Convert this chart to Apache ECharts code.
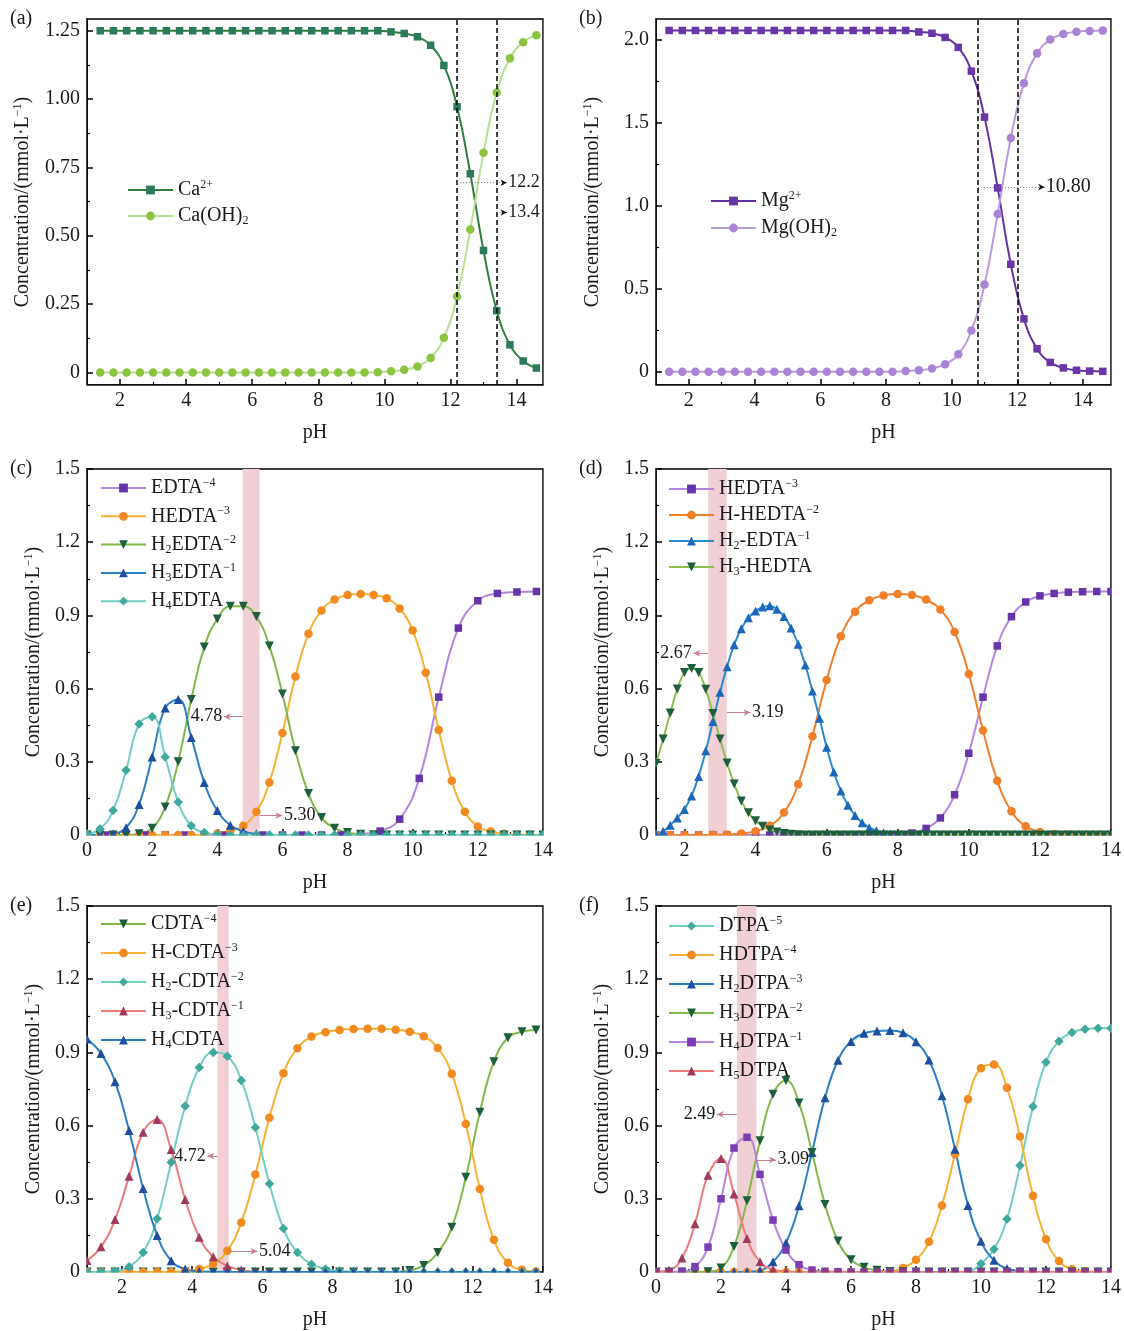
<!DOCTYPE html>
<html>
<head>
<meta charset="utf-8">
<script src="https://cdn.jsdelivr.net/npm/echarts@6/dist/echarts.min.js"></script>
<style>
html,body{margin:0;padding:0;background:#fff;}
#chart{width:1124px;height:1331px;}
</style>
</head>
<body>
<div id="chart"></div>
<script>
// ---------- pH grids ----------
const phCaMg = [1.4,1.8,2.2,2.6,3.0,3.4,3.8,4.2,4.6,5.0,5.4,5.8,6.2,6.6,7.0,7.4,7.8,8.2,8.6,9.0,9.4,9.8,10.2,10.6,11.0,11.4,11.8,12.2,12.6,13.0,13.4,13.8,14.2,14.6];
const phEdta = [0,0.4,0.8,1.2,1.6,2.0,2.4,2.8,3.2,3.6,4.0,4.4,4.8,5.2,5.6,6.0,6.4,6.8,7.2,7.6,8.0,8.4,8.8,9.2,9.6,10.0,10.4,10.8,11.2,11.6,12.0,12.4,12.8,13.2,13.6,14.0];
const phEdtaWide = [0,0.6,1.2,1.8,2.4,3.0,3.6,4.2,4.8,5.4,6.0,6.6,7.2,7.8,8.4,9.0,9.6,10.2,10.8,11.4,12.0,12.6,13.2,13.8];
const phHedtaFine = [1.2,1.4,1.6,1.8,2.0,2.2,2.4,2.6,2.8,3.0,3.2,3.4,3.6,3.8,4.0,4.2,4.4,4.6,4.8,5.0,5.2,5.4,5.6,5.8,6.0,6.2,6.4,6.6,6.8,7.0,7.2,7.4,7.6,7.8,8.0,8.2,8.4,8.6,8.8,9.0,9.2,9.4,9.6,9.8,10.0,10.2,10.4,10.6,10.8,11.0,11.2,11.4,11.6,11.8,12.0,12.2,12.4,12.6,12.8,13.0,13.2,13.4,13.6,13.8,14.0];
const phHedta = [1.2,1.6,2.0,2.4,2.8,3.2,3.6,4.0,4.4,4.8,5.2,5.6,6.0,6.4,6.8,7.2,7.6,8.0,8.4,8.8,9.2,9.6,10.0,10.4,10.8,11.2,11.6,12.0,12.4,12.8,13.2,13.6,14.0];
const phCdta = [1.0,1.4,1.8,2.2,2.6,3.0,3.4,3.8,4.2,4.6,5.0,5.4,5.8,6.2,6.6,7.0,7.4,7.8,8.2,8.6,9.0,9.4,9.8,10.2,10.6,11.0,11.4,11.8,12.2,12.6,13.0,13.4,13.8];
const phDtpa = [0,0.4,0.8,1.2,1.6,2.0,2.4,2.8,3.2,3.6,4.0,4.4,4.8,5.2,5.6,6.0,6.4,6.8,7.2,7.6,8.0,8.4,8.8,9.2,9.6,10.0,10.4,10.8,11.2,11.6,12.0,12.4,12.8,13.2,13.6,14.0];

// ---------- concentrations, mmol/L ----------
// (a) calcium
const ca2 = [1.25,1.25,1.25,1.25,1.25,1.25,1.25,1.25,1.25,1.25,1.25,1.25,1.25,1.25,1.25,1.25,1.25,1.25,1.25,1.25,1.25,1.25,1.246,1.24,1.228,1.197,1.123,0.972,0.727,0.446,0.226,0.101,0.042,0.016];
const caOH2 = [0,0,0,0,0,0,0,0,0,0,0,0,0,0,0,0,0,0,0,0,0,0.001,0.004,0.01,0.022,0.053,0.127,0.278,0.523,0.804,1.024,1.149,1.208,1.234];
// (b) magnesium
const mg2 = [2.055,2.055,2.055,2.055,2.055,2.055,2.055,2.055,2.055,2.055,2.055,2.055,2.055,2.055,2.055,2.055,2.055,2.055,2.055,2.046,2.038,2.013,1.953,1.81,1.533,1.107,0.647,0.318,0.138,0.056,0.023,0.009,0.004,0.002];
const mgOH2 = [0,0,0,0,0,0,0,0,0,0,0,0,0,0,0,0,0,0,0.004,0.009,0.02,0.045,0.105,0.248,0.525,0.95,1.408,1.737,1.917,2.0,2.033,2.047,2.052,2.054];
// (c) EDTA
const edta4 = [0,0,0,0,0,0,0,0,0,0,0,0,0,0,0.004,0.016,0.065,0.232,0.565,0.848,0.96,0.99,0.996,0.998];
const hedta3 = [0,0,0,0,0,0,0,0,0,0.002,0.006,0.016,0.038,0.095,0.215,0.418,0.65,0.825,0.92,0.965,0.984,0.988,0.984,0.97,0.928,0.838,0.665,0.43,0.222,0.095,0.035,0.014,0.005,0.002,0.001,0];
const h2edta2 = [0,0,0,0,0.005,0.028,0.115,0.3,0.555,0.77,0.885,0.937,0.937,0.895,0.775,0.578,0.345,0.17,0.072,0.028,0.01,0.003,0.001,0,0,0,0,0,0,0,0,0,0,0,0,0];
const h3edta1 = [0,0.001,0.005,0.03,0.125,0.32,0.52,0.555,0.4,0.215,0.1,0.04,0.015,0.005,0.001,0,0,0,0,0,0,0,0,0,0,0,0,0,0,0,0,0,0,0,0,0];
const h4edta = [0.005,0.025,0.1,0.265,0.455,0.485,0.32,0.135,0.038,0.01,0.002,0,0,0,0,0,0,0,0,0,0,0,0,0,0,0,0,0,0,0,0,0,0,0,0,0];
// (d) HEDTA
const hedtaD = [0,0,0,0,0,0,0,0,0,0,0,0,0,0,0,0,0,0,0.008,0.027,0.07,0.165,0.335,0.565,0.775,0.895,0.955,0.98,0.99,0.995,0.997,0.998,0.998];
const hHedta2 = [0,0,0,0,0.001,0.002,0.006,0.015,0.038,0.092,0.208,0.405,0.635,0.815,0.915,0.962,0.982,0.988,0.984,0.965,0.924,0.832,0.66,0.428,0.222,0.097,0.036,0.012,0.004,0.001,0,0,0];
const h2Edta1 = [0.005,0.015,0.04,0.07,0.105,0.16,0.24,0.345,0.465,0.585,0.69,0.78,0.845,0.89,0.918,0.934,0.94,0.925,0.896,0.848,0.782,0.697,0.59,0.478,0.36,0.258,0.18,0.122,0.08,0.05,0.03,0.017,0.009,0.004,0.002,0,0,0,0,0,0,0,0,0,0,0,0,0,0,0,0,0,0,0,0,0,0,0,0,0,0,0,0,0,0];
const h3Hedta = [0.293,0.393,0.5,0.598,0.666,0.682,0.666,0.597,0.498,0.393,0.295,0.209,0.139,0.091,0.058,0.036,0.021,0.012,0.006,0.003,0.001,0,0,0,0,0,0,0,0,0,0,0,0,0,0,0,0,0,0,0,0,0,0,0,0,0,0,0,0,0,0,0,0,0,0,0,0,0,0,0,0,0,0,0,0];
// (e) CDTA
const cdta4 = [0,0,0,0,0,0,0,0,0,0,0,0,0,0,0,0,0,0,0,0,0,0,0,0.006,0.027,0.08,0.183,0.388,0.655,0.862,0.96,0.985,0.992];
const hCdta3 = [0,0,0,0,0,0,0,0.004,0.012,0.033,0.087,0.203,0.4,0.632,0.815,0.917,0.965,0.983,0.992,0.996,0.997,0.997,0.993,0.985,0.966,0.918,0.812,0.607,0.34,0.132,0.038,0.009,0.002];
const h2Cdta2 = [0,0.001,0.004,0.022,0.08,0.218,0.45,0.68,0.838,0.9,0.884,0.785,0.592,0.362,0.178,0.08,0.032,0.012,0.004,0.001,0,0,0,0,0,0,0,0,0,0,0,0,0];
const h3Cdta1 = [0.047,0.103,0.215,0.392,0.573,0.625,0.502,0.297,0.142,0.062,0.025,0.008,0.002,0.001,0,0,0,0,0,0,0,0,0,0,0,0,0,0,0,0,0,0,0];
const h4Cdta = [0.955,0.895,0.78,0.58,0.342,0.15,0.046,0.012,0.003,0.001,0,0,0,0,0,0,0,0,0,0,0,0,0,0,0,0,0,0,0,0,0,0,0];
// (f) DTPA
const dtpa5 = [0,0,0,0,0,0,0,0,0,0,0,0,0,0,0,0,0,0,0,0,0,0,0,0,0.002,0.034,0.093,0.217,0.436,0.678,0.86,0.946,0.982,0.995,0.999,0.999];
const hDtpa4 = [0,0,0,0,0,0,0,0,0,0,0,0,0,0,0,0,0,0,0.003,0.016,0.05,0.124,0.273,0.483,0.708,0.835,0.85,0.755,0.555,0.312,0.134,0.045,0.011,0.003,0.001,0];
const h2Dtpa3 = [0,0,0,0,0,0,0,0,0.006,0.042,0.12,0.272,0.49,0.714,0.868,0.945,0.978,0.988,0.99,0.981,0.944,0.869,0.722,0.503,0.273,0.126,0.048,0.014,0.004,0.001,0,0,0,0,0,0];
const h3Dtpa2 = [0,0,0,0,0.001,0.016,0.105,0.292,0.538,0.728,0.785,0.693,0.49,0.277,0.127,0.05,0.019,0.007,0.002,0.001,0,0,0,0,0,0,0,0,0,0,0,0,0,0,0,0];
const h4Dtpa1 = [0,0,0.002,0.022,0.102,0.3,0.508,0.552,0.4,0.213,0.09,0.03,0.008,0.003,0.001,0,0,0,0,0,0,0,0,0,0,0,0,0,0,0,0,0,0,0,0,0];
const h5Dtpa = [0.001,0.007,0.057,0.198,0.397,0.465,0.32,0.137,0.042,0.01,0.002,0,0,0,0,0,0,0,0,0,0,0,0,0,0,0,0,0,0,0,0,0,0,0,0,0];

// ---------- marked pH values ----------
const precipCa = [12.2, 13.4];
const precipMg = [10.8, 12.0];
const bandEdta = [4.78, 5.30];
const bandHedta = [2.67, 3.19];
const bandCdta = [4.72, 5.04];
const bandDtpa = [2.49, 3.09];

// ---------- tick labels ----------
const ticksEven = [2,4,6,8,10,12,14];
const ticksEven0 = [0,2,4,6,8,10,12,14];
const ticksOdd = [1,3,5,7,9,11,13];
const ticksOddInner = [3,5,7,9,11,13];
const ticksCa = [0,0.25,0.5,0.75,1.0,1.25];
const ticksCaMinor = [0.125,0.375,0.625,0.875,1.125];
const ticksMg = [0,0.5,1.0,1.5,2.0];
const ticksMgMinor = [0.25,0.75,1.25,1.75];
const ticksConc = [0,0.3,0.6,0.9,1.2,1.5];
const ticksConcMinor = [0.15,0.45,0.75,1.05,1.35];

const FONT = '"Liberation Serif","Times New Roman",Times,serif';
const INK = '#1a1a1a';
const SUP = { fontFamily: FONT, fontSize: 12, lineHeight: 12, verticalAlign: 'top', color: INK };
const SUB = { fontFamily: FONT, fontSize: 12, lineHeight: 12, verticalAlign: 'bottom', color: INK };

const purpleL = '#b386e0', purpleM = '#6434a8';
const orangeL = '#f8b133', orangeM = '#f28a22';
const greenL = '#80b94a', greenM = '#1d5e3c';
const blueL = '#2b7fc4', blueM = '#1d4f9e';
const tealL = '#74cdc4', tealM = '#3fa99d';
const redL = '#ec7c7c', redM = '#a13b5e';

// curve: [id, legend text, x, y, line colour, marker colour, symbol, rotate, size]
const panels = [
  { tag: '(a)', box: [87, 19, 456, 366], xr: [1, 14.8], xMajor: ticksEven, xMinor: ticksOddInner,
    yr: [-0.046, 1.293], yMajor: ticksCa, yMinor: ticksCaMinor, yDigits: 2, yGap: 53,
    legend: { left: 127, top: 179, gap: 4 }, noteSize: 18, noteStyle: 'dot',
    curves: [
      ['Ca2+', 'Ca{sup|2+}', phCaMg, ca2, '#2f7f3a', '#2b7a5c', 'rect', 0, 7.5],
      ['Ca(OH)2', 'Ca(OH){sub|2}', phCaMg, caOH2, '#b9de94', '#8dc43f', 'circle', 0, 8.5]
    ],
    vlines: precipCa, band: null,
    notes: [[precipCa[0], 13.7, 0.694, '12.2'], [precipCa[1], 13.7, 0.585, '13.4']] },
  { tag: '(b)', box: [656, 19, 455, 366], xr: [1, 14.85], xMajor: ticksEven, xMinor: ticksOddInner,
    yr: [-0.08, 2.124], yMajor: ticksMg, yMinor: ticksMgMinor, yDigits: 1, yGap: 52,
    legend: { left: 710, top: 190, gap: 5 }, noteSize: 20, noteStyle: 'dot',
    curves: [
      ['Mg2+', 'Mg{sup|2+}', phCaMg, mg2, '#6233a0', '#6a35a6', 'rect', 0, 7.5],
      ['Mg(OH)2', 'Mg(OH){sub|2}', phCaMg, mgOH2, '#b89cd9', '#a983d4', 'circle', 0, 8.5]
    ],
    vlines: precipMg, band: null,
    notes: [[precipMg[0], 12.82, 1.112, '10.80']] },
  { tag: '(c)', box: [87, 469, 456, 366], xr: [0, 14], xMajor: ticksEven0, xMinor: ticksOdd,
    yr: [0, 1.5], yMajor: ticksConc, yMinor: ticksConcMinor, yDigits: 1, yGap: 42,
    legend: { left: 100, top: 477, gap: 6.3 }, noteSize: 18, noteStyle: 'pink',
    curves: [
      ['c:EDTA', 'EDTA{sup|−4}', phEdtaWide, edta4, purpleL, purpleM, 'rect', 0, 7.5],
      ['c:HEDTA', 'HEDTA{sup|−3}', phEdta, hedta3, orangeL, orangeM, 'circle', 0, 8.5],
      ['c:H2EDTA', 'H{sub|2}EDTA{sup|−2}', phEdta, h2edta2, greenL, greenM, 'triangle', 180, 9],
      ['c:H3EDTA', 'H{sub|3}EDTA{sup|−1}', phEdta, h3edta1, blueL, blueM, 'triangle', 0, 9],
      ['c:H4EDTA', 'H{sub|4}EDTA', phEdta, h4edta, tealL, tealM, 'diamond', 0, 9.5]
    ],
    vlines: [], band: bandEdta,
    notes: [[bandEdta[0], 4.2, 0.485, '4.78'], [bandEdta[1], 6.0, 0.08, '5.30']] },
  { tag: '(d)', box: [656, 469, 455, 366], xr: [1.2, 14], xMajor: ticksEven, xMinor: ticksOddInner,
    yr: [0, 1.5], yMajor: ticksConc, yMinor: ticksConcMinor, yDigits: 1, yGap: 42,
    legend: { left: 668, top: 478, gap: 4 }, noteSize: 18, noteStyle: 'pink',
    curves: [
      ['d:HEDTA', 'HEDTA{sup|−3}', phHedta, hedtaD, purpleL, purpleM, 'rect', 0, 7.5],
      ['d:H-HEDTA', 'H-HEDTA{sup|−2}', phHedta, hHedta2, '#f07f2c', '#f07f2c', 'circle', 0, 8.5],
      ['d:H2-EDTA', 'H{sub|2}-EDTA{sup|−1}', phHedtaFine, h2Edta1, '#2a8ad0', '#1b68bb', 'triangle', 0, 9],
      ['d:H3-HEDTA', 'H{sub|3}-HEDTA', phHedtaFine, h3Hedta, '#8cc04c', greenM, 'triangle', 180, 9]
    ],
    vlines: [], band: bandHedta,
    notes: [[bandHedta[0], 2.25, 0.745, '2.67'], [bandHedta[1], 3.86, 0.502, '3.19']] },
  { tag: '(e)', box: [87, 906, 456, 366], xr: [1, 14], xMajor: ticksEven, xMinor: ticksOddInner,
    yr: [0, 1.5], yMajor: ticksConc, yMinor: ticksConcMinor, yDigits: 1, yGap: 42,
    legend: { left: 100, top: 913, gap: 7 }, noteSize: 18, noteStyle: 'pink',
    curves: [
      ['e:CDTA', 'CDTA{sup|−4}', phCdta, cdta4, greenL, greenM, 'triangle', 180, 9],
      ['e:H-CDTA', 'H-CDTA{sup|−3}', phCdta, hCdta3, orangeL, orangeM, 'circle', 0, 8.5],
      ['e:H2-CDTA', 'H{sub|2}-CDTA{sup|−2}', phCdta, h2Cdta2, tealL, tealM, 'diamond', 0, 9.5],
      ['e:H3-CDTA', 'H{sub|3}-CDTA{sup|−1}', phCdta, h3Cdta1, redL, redM, 'triangle', 0, 9],
      ['e:H4CDTA', 'H{sub|4}CDTA', phCdta, h4Cdta, blueL, blueM, 'triangle', 0, 9]
    ],
    vlines: [], band: bandCdta,
    notes: [[bandCdta[0], 4.43, 0.475, '4.72'], [bandCdta[1], 5.86, 0.085, '5.04']] },
  { tag: '(f)', box: [656, 906, 455, 366], xr: [0, 14], xMajor: ticksEven0, xMinor: ticksOdd,
    yr: [0, 1.5], yMajor: ticksConc, yMinor: ticksConcMinor, yDigits: 1, yGap: 42,
    legend: { left: 668, top: 915, gap: 7 }, noteSize: 18, noteStyle: 'pink',
    curves: [
      ['f:DTPA', 'DTPA{sup|−5}', phDtpa, dtpa5, tealL, tealM, 'diamond', 0, 9.5],
      ['f:HDTPA', 'HDTPA{sup|−4}', phDtpa, hDtpa4, orangeL, orangeM, 'circle', 0, 8.5],
      ['f:H2DTPA', 'H{sub|2}DTPA{sup|−3}', phDtpa, h2Dtpa3, blueL, blueM, 'triangle', 0, 9],
      ['f:H3DTPA', 'H{sub|3}DTPA{sup|−2}', phDtpa, h3Dtpa2, greenL, greenM, 'triangle', 180, 9],
      ['f:H4DTPA', 'H{sub|4}DTPA{sup|−1}', phDtpa, h4Dtpa1, purpleL, '#7a3db2', 'rect', 0, 7.5],
      ['f:H5DTPA', 'H{sub|5}DTPA', phDtpa, h5Dtpa, redL, redM, 'triangle', 0, 9]
    ],
    vlines: [], band: bandDtpa,
    notes: [[bandDtpa[0], 1.87, 0.646, '2.49'], [bandDtpa[1], 3.69, 0.46, '3.09']] }
];

const labelOf = {};
const option = {
  animation: false, backgroundColor: '#fff',
  title: [], grid: [], xAxis: [], yAxis: [], legend: [], series: [], graphic: []
};

panels.forEach((p, i) => {
  const [l, t, w, h] = p.box;
  option.grid.push({ left: l, top: t, width: w, height: h, show: true,
    borderColor: '#000', borderWidth: 1.5, backgroundColor: 'transparent' });
  option.title.push({ text: p.tag, left: l - 77, top: t - 10, padding: 0,
    textStyle: { fontFamily: FONT, fontSize: 20, fontWeight: 'normal', color: INK } });

  // markers sitting on the frame are trimmed to the plotting area
  const mask = { fill: '#fff' };
  option.graphic.push(
    { type: 'rect', z: 50, silent: true, shape: { x: l - 7, y: t + h + 0.8, width: w + 14, height: 6 }, style: mask },
    { type: 'rect', z: 50, silent: true, shape: { x: l - 6, y: t, width: 5.2, height: h + 1 }, style: mask },
    { type: 'rect', z: 50, silent: true, shape: { x: l + w + 0.8, y: t, width: 6, height: h + 1 }, style: mask }
  );

  const tickLine = { color: '#000', width: 1.5 };
  // major x axis with labels
  option.xAxis.push({
    type: 'value', gridIndex: i, position: 'bottom', min: p.xr[0], max: p.xr[1],
    name: 'pH', nameLocation: 'middle', nameGap: 38,
    nameTextStyle: { fontFamily: FONT, fontSize: 20, color: INK },
    axisLine: { show: true, onZero: false, lineStyle: tickLine },
    axisTick: { show: true, inside: true, length: 6, customValues: p.xMajor, lineStyle: tickLine },
    axisLabel: { show: true, customValues: p.xMajor, margin: 6, fontFamily: FONT, fontSize: 20, color: INK,
      formatter: v => String(v) },
    splitLine: { show: false }
  });
  // minor x ticks
  option.xAxis.push({
    type: 'value', gridIndex: i, position: 'bottom', min: p.xr[0], max: p.xr[1],
    axisLine: { show: false, onZero: false },
    axisTick: { show: true, inside: true, length: 3, customValues: p.xMinor, lineStyle: { color: '#000', width: 1.2 } },
    axisLabel: { show: false }, splitLine: { show: false }
  });
  // major y axis with labels
  option.yAxis.push({
    type: 'value', gridIndex: i, position: 'left', min: p.yr[0], max: p.yr[1],
    name: 'Concentration/(mmol·L{sup|−1})', nameLocation: 'middle', nameGap: p.yGap,
    nameTextStyle: { fontFamily: FONT, fontSize: 20, color: INK, lineHeight: 22, rich: { sup: SUP } },
    axisLine: { show: true, onZero: false, lineStyle: tickLine },
    axisTick: { show: true, inside: true, length: 6, customValues: p.yMajor, lineStyle: tickLine },
    axisLabel: { show: true, customValues: p.yMajor, margin: 7, fontFamily: FONT, fontSize: 20, color: INK,
      formatter: v => (Math.abs(v) < 1e-9 ? '0' : v.toFixed(p.yDigits)) },
    splitLine: { show: false }
  });
  // minor y ticks
  option.yAxis.push({
    type: 'value', gridIndex: i, position: 'left', min: p.yr[0], max: p.yr[1],
    axisLine: { show: false, onZero: false },
    axisTick: { show: true, inside: true, length: 3, customValues: p.yMinor, lineStyle: { color: '#000', width: 1.2 } },
    axisLabel: { show: false }, splitLine: { show: false }
  });

  // reference lines, shaded pH window, arrows and their values
  const dotted = p.noteStyle === 'dot';
  const arrowLine = dotted
    ? { type: [1, 2], color: '#7a7a7a', width: 1 }
    : { type: 'solid', color: '#c97f92', width: 1 };
  const mlData = p.vlines.map(v => ({ xAxis: v, lineStyle: { type: [5, 3], color: '#000', width: 1.5 } }));
  p.notes.forEach(n => {
    mlData.push([
      { coord: [n[0], n[2]], symbol: 'none', lineStyle: arrowLine },
      { coord: [n[1], n[2]], symbol: dotted ? 'none' : 'arrow', symbolSize: [5, 7], lineStyle: arrowLine }
    ]);
    if (dotted) {
      const dir = n[1] > n[0] ? 1 : -1;
      const head = { type: 'solid', color: '#111', width: 1 };
      mlData.push([
        { coord: [n[1] - dir * 0.06, n[2]], symbol: 'none', lineStyle: head },
        { coord: [n[1], n[2]], symbol: 'arrow', symbolSize: [5, 6], lineStyle: head }
      ]);
    }
  });
  const ann = {
    type: 'line', name: '_ref' + i, xAxisIndex: 2 * i, yAxisIndex: 2 * i, data: [],
    z: 1, silent: true, symbol: 'none', lineStyle: { width: 0 },
    markLine: { silent: true, symbol: ['none', 'none'], label: { show: false }, animation: false, data: mlData },
    markPoint: {
      silent: true, animation: false,
      data: p.notes.map(n => ({
        name: n[3], coord: [n[1], n[2]], symbol: 'circle', symbolSize: 1,
        itemStyle: { color: 'rgba(0,0,0,0)' },
        label: { show: true, position: n[1] > n[0] ? 'right' : 'left', distance: 1, formatter: '{b}',
          fontFamily: FONT, fontSize: p.noteSize, color: INK }
      }))
    }
  };
  if (p.band) {
    ann.markArea = { silent: true, animation: false, itemStyle: { color: '#f0cfd5', opacity: 1 },
      data: [[{ xAxis: p.band[0] }, { xAxis: p.band[1] }]] };
  }
  option.series.push(ann);

  p.curves.forEach(c => {
    labelOf[c[0]] = c[1];
    option.series.push({
      type: 'line', name: c[0], xAxisIndex: 2 * i, yAxisIndex: 2 * i,
      data: c[2].map((x, k) => [x, c[3][k]]),
      smooth: 0.45, symbol: c[6], symbolRotate: c[7], symbolSize: c[8], showSymbol: true,
      lineStyle: { color: c[4], width: 2 }, itemStyle: { color: c[5] },
      z: 3, emphasis: { disabled: true }
    });
  });

  option.legend.push({
    data: p.curves.map(c => c[0]), orient: 'vertical', left: p.legend.left, top: p.legend.top,
    padding: 0, itemWidth: 45, itemHeight: 11, itemGap: p.legend.gap, selectedMode: false,
    formatter: n => labelOf[n],
    textStyle: { fontFamily: FONT, fontSize: 20, color: INK, lineHeight: 22, rich: { sup: SUP, sub: SUB } }
  });
});

const chart = echarts.init(document.getElementById('chart'), null, { renderer: 'canvas' });
chart.setOption(option);
</script>
</body>
</html>
